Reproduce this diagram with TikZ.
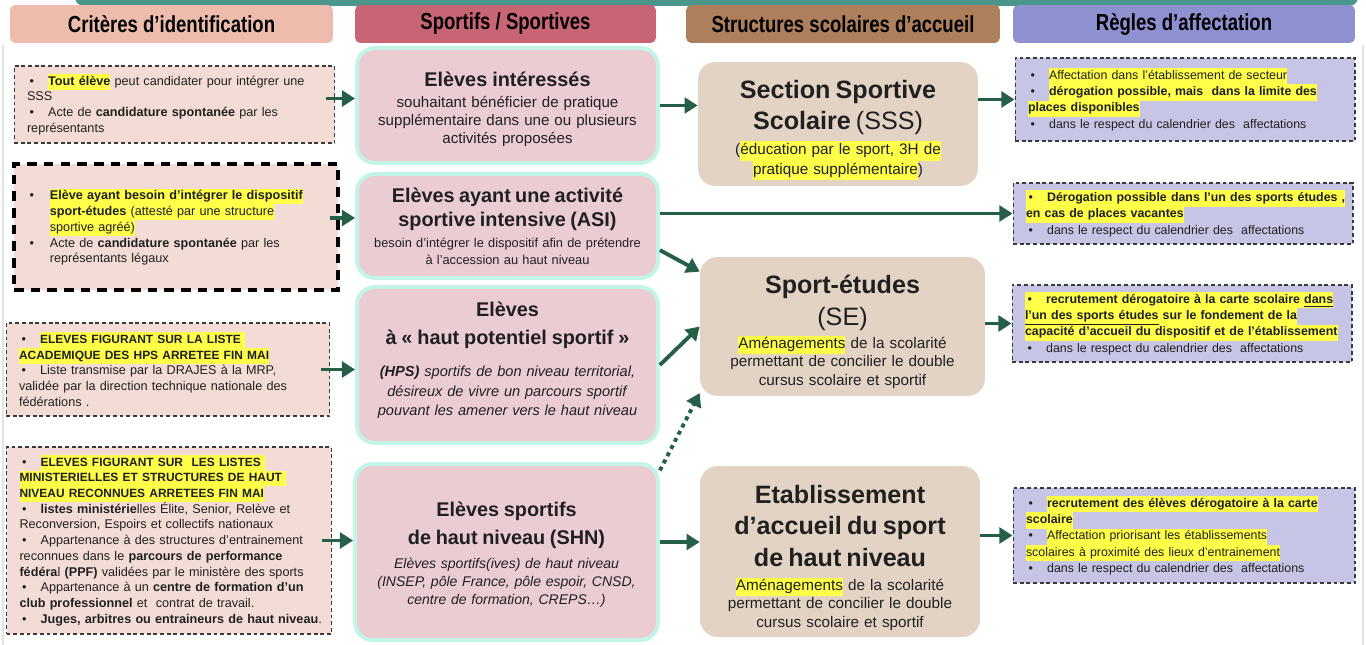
\documentclass[tikz,border=0pt]{standalone}
\usepackage{fontspec}
\setmainfont{Liberation Sans}
\newfontfamily\condfont[FakeStretch=0.8]{Liberation Sans}
\usepackage{tikz}
\usetikzlibrary{arrows.meta}

\definecolor{barteal}{HTML}{4A968A}
\definecolor{hdcrit}{HTML}{EEBCAD}
\definecolor{hdsport}{HTML}{C86574}
\definecolor{hdstruct}{HTML}{AE7F5C}
\definecolor{hdregle}{HTML}{8F90CF}
\definecolor{critfill}{HTML}{F4DCD6}
\definecolor{sportfill}{HTML}{EBCCD2}
\definecolor{sportedge}{HTML}{C2F5E7}
\definecolor{structfill}{HTML}{E3D3C5}
\definecolor{reglefill}{HTML}{C6C5E5}
\definecolor{arrgreen}{HTML}{265F48}
\definecolor{dashgray}{HTML}{3A3A3A}
\definecolor{framegray}{HTML}{E4E4E4}
\definecolor{hly}{HTML}{FFFF4A}
\definecolor{txt}{HTML}{202020}

\newcommand{\hlt}[1]{{\setlength{\fboxsep}{0pt}\colorbox{hly}{\strut#1}}}
\newcommand{\bul}[1][12pt]{\makebox[#1][l]{\hspace{1.5pt}•}}
\newcommand{\hpcaps}[1]{{\fontsize{6.8}{9}\selectfont\bfseries #1}}
\newcommand{\ttl}[1]{{\fontsize{11.3}{13}\selectfont\bfseries #1}}
\newcommand{\stl}[1]{{\fontsize{14.3}{17}\selectfont #1}}
\newcommand{\setsize}[2]{\fontsize{#1}{#2}\selectfont\lineskiplimit=-30pt}
\newcommand{\lift}[1]{\rule{0pt}{#1}}
\newcommand{\sink}[1]{\rule[-#1]{0pt}{0pt}}

\begin{document}
\begin{tikzpicture}[x=0.02cm, y=-0.02cm,
	hdr/.style={rounded corners=3pt, fill=#1, minimum height=0.76cm, inner sep=0pt, font=\condfont\bfseries\fontsize{13.2}{15}\selectfont},
	crit/.style={fill=critfill, draw=dashgray, line width=0.6pt, dash pattern=on 2.2pt off 1.6pt, inner xsep=0.26cm, inner ysep=0pt, align=left, text=txt, font=\setsize{7.2}{9}},
	sport/.style={rounded corners=10pt, fill=sportfill, draw=sportedge, line width=2.2pt, inner xsep=0.1cm, inner ysep=0pt, align=center, text=txt},
	struct/.style={rounded corners=10pt, fill=structfill, inner xsep=0.1cm, inner ysep=0pt, align=center, text=txt},
	regle/.style={fill=reglefill, draw=dashgray, line width=0.6pt, dash pattern=on 2.2pt off 1.6pt, inner xsep=0.26cm, inner ysep=0pt, align=left, text=txt, font=\setsize{7.05}{9.2}},
	arr/.style={draw=arrgreen, line width=2.2pt, -{Triangle[length=7.5pt,width=9pt]}},
	arrdot/.style={arr, dash pattern=on 2.3pt off 2.3pt}]

	\useasboundingbox (0,0) rectangle (1366,645);
	\begin{scope}
		\clip (0,0) rectangle (1366,645);
		\fill[barteal, rounded corners=5pt] (75,-20) rectangle (1358,6);
	\end{scope}
	\draw[framegray, line width=0.8pt] (3,45) -- (3,645);
	\draw[framegray, line width=0.8pt] (1363,45) -- (1363,645);

	% headers
	\node (h1) at (171.5,24) [hdr=hdcrit, minimum width=6.46cm] {Critères d’identification};
	\node (h2) at (505.5,24) [hdr=hdsport, minimum width=6.02cm] {Sportifs / Sportives};
	\node (h3) at (843,24) [hdr=hdstruct, minimum width=6.28cm] {Structures scolaires d’accueil};
	\node (h4) at (1184,24) [hdr=hdregle, minimum width=6.84cm] {Règles d’affectation};

	% criteres
	\node (l1) at (174.5,104.5) [crit, text width=5.9cm, minimum height=1.54cm] {
		\bul\hlt{\textbf{Tout élève}} peut candidater pour intégrer une\\
		SSS\\
		\bul Acte de \textbf{candidature spontanée} par les\\
		représentants};
	\node (l2) at (176,227) [crit, line width=1.8pt, dash pattern=on 5.5pt off 4pt, draw=black, text width=5.96cm, minimum height=2.52cm] {
		\bul[13pt]\hlt{\textbf{Elève ayant besoin d’intégrer le dispositif}}\\
		\hspace*{13pt}\hlt{\textbf{sport-études} (attesté par une structure}\\
		\hspace*{13pt}\hlt{sportive agréé)}\\
		\bul[13pt]Acte de \textbf{candidature spontanée} par les\\
		\hspace*{13pt}représentants légaux};
	\node (l3) at (168,369.5) [crit, text width=5.96cm, minimum height=1.86cm] {
		\bul\hlt{\hpcaps{ELEVES FIGURANT SUR LA LISTE }}\\
		\hlt{\hpcaps{ACADEMIQUE DES HPS ARRETEE FIN MAI}}\\
		\bul Liste transmise par la DRAJES à la MRP,\\
		validée par la direction technique nationale des\\
		fédérations .};
	\node (l4) at (169,540.5) [crit, text width=5.98cm, minimum height=3.74cm, font=\setsize{7.2}{8.95}] {
		\bul\hlt{\hpcaps{ELEVES FIGURANT SUR\ \ LES LISTES }}\\
		\hlt{\hpcaps{MINISTERIELLES ET STRUCTURES DE HAUT }}\\
		\hlt{\hpcaps{NIVEAU RECONNUES ARRETEES FIN MAI}}\\
		\bul\textbf{listes ministérie}lles Élite, Senior, Relève et\\
		Reconversion, Espoirs et collectifs nationaux\\
		\bul Appartenance à des structures d'entrainement\\
		reconnues dans le \textbf{parcours de performance}\\
		\textbf{fédéra}l \textbf{(PPF)} validées par le ministère des sports\\
		\bul Appartenance à un \textbf{centre de formation d'un}\\
		\textbf{club professionnel} et\ \ contrat de travail.\\
		\bul\mbox{\textbf{Juges, arbitres ou entraineurs de haut niveau}.}};

	% sportifs
	\node (m1) at (507.5,105.5) [sport, text width=5.82cm, minimum height=2.3cm, font=\setsize{8.6}{10.2}] {
		\lift{12.3pt}\ttl{Elèves intéressés}\\[1.8pt]
		souhaitant bénéficier de pratique\\
		supplémentaire dans une ou plusieurs\\
		activités proposées};
	\node (m2) at (507.5,226) [sport, text width=5.82cm, minimum height=2.08cm, font=\setsize{7.3}{9.6}] {
		\ttl{Elèves ayant une activité}\\[4pt]
		\ttl{sportive intensive (ASI)}\\[2.3pt]
		besoin d’intégrer le dispositif afin de prétendre\\
		à l’accession au haut niveau};
	\node (m3) at (507.5,365) [sport, text width=5.82cm, minimum height=3.12cm, font=\setsize{8.3}{11}] {
		\ttl{Elèves}\\[4.9pt]
		\ttl{à « haut potentiel sportif »}\\[7.6pt]
		\textit{\textbf{(HPS)} sportifs de bon niveau territorial,}\\
		\textit{désireux de vivre un parcours sportif}\\
		\textit{pouvant les amener vers le haut niveau}\sink{7.4pt}};
	\node (m4) at (506.5,552) [sport, text width=5.86cm, minimum height=3.52cm, font=\setsize{8}{10.2}] {
		\lift{11.7pt}\ttl{Elèves sportifs}\\[5.7pt]
		\ttl{de haut niveau (SHN)}\\[3.4pt]
		\textit{Elèves sportifs(ives) de haut niveau}\\
		\textit{(INSEP, pôle France, pôle espoir, CNSD,}\\
		\textit{centre de formation, CREPS…)}};

	% structures
	\node (s1) at (838,124) [struct, text width=5.4cm, minimum height=2.48cm, font=\setsize{8.7}{11}] {
		\lift{17.6pt}\stl{\textbf{Section Sportive}}\\[6.6pt]
		\stl{\textbf{Scolaire} (SSS)}\\[3.2pt]
		(\hlt{éducation par le sport, 3H de}\\
		\hlt{pratique supplémentaire})};
	\node (s2) at (842.5,326.5) [struct, text width=5.5cm, minimum height=2.78cm, font=\setsize{8.7}{10.4}] {
		\lift{16.5pt}\stl{\textbf{Sport-études}}\\[7.7pt]
		\stl{(SE)}\\[2.7pt]
		\hlt{Aménagements} de la scolarité\\
		permettant de concilier le double\\
		cursus scolaire et sportif};
	\node (s3) at (840,551.5) [struct, text width=5.4cm, minimum height=3.42cm, font=\setsize{8.7}{10.4}] {
		\lift{17.2pt}\stl{\textbf{Etablissement}}\\[7.7pt]
		\stl{\textbf{d’accueil du sport}}\\[7.7pt]
		\stl{\textbf{de haut niveau}}\\[3.2pt]
		\hlt{Aménagements} de la scolarité\\
		permettant de concilier le double\\
		cursus scolaire et sportif};

	% regles
	\node (r1) at (1185,99.5) [regle, text width=6.28cm, minimum height=1.66cm] {
		\bul\hlt{Affectation dans l’établissement de secteur}\\
		\bul\hlt{\textbf{dérogation possible, mais\ \ dans la limite des}}\\
		\hlt{\textbf{places disponibles}}\\
		\bul dans le respect du calendrier des\ \ affectations};
	\node (r2) at (1183,213.5) [regle, text width=6.28cm, minimum height=1.22cm] {
		\hlt{\bul\textbf{Dérogation possible dans l’un des sports études ,}}\\
		\hlt{\textbf{en cas de places vacantes}}\\
		\bul dans le respect du calendrier des\ \ affectations};
	\node (r3) at (1182,323.5) [regle, text width=6.28cm, minimum height=1.54cm] {
		\hlt{\bul\textbf{recrutement dérogatoire à la carte scolaire \underline{dans}}}\\
		\hlt{\textbf{\underline{l’un des sports études} sur le fondement de la}}\\
		\hlt{\textbf{capacité d’accueil du dispositif et de l’établissement}}\\
		\bul dans le respect du calendrier des\ \ affectations};
	\node (r4) at (1184,535.5) [regle, text width=6.32cm, minimum height=1.9cm] {
		\bul\hlt{\textbf{recrutement des élèves dérogatoire à la carte}}\\
		\hlt{\textbf{scolaire}}\\
		\bul\hlt{Affectation priorisant les établissements}\\
		\hlt{scolaires à proximité des lieux d’entrainement}\\
		\bul dans le respect du calendrier des\ \ affectations};

	% connectors
	\draw[arr] ([xshift=-0.2cm,yshift=0.12cm]l1.east) -- ([yshift=0.12cm]l1.east -| m1.west);
	\draw[arr] ([xshift=-0.2cm,yshift=0.18cm]l2.east) -- ([yshift=0.18cm]l2.east -| m2.west);
	\draw[arr] ([xshift=-0.2cm]l3.east) -- (l3.east -| m3.west);
	\draw[arr] ([xshift=-0.2cm]l4.east) -- (l4.east -| m4.west);
	\draw[arr] (m1.east) -- (m1.east -| s1.west);
	\draw[arr] (r2.west -| m2.east) -- (r2.west);
	\draw[arr] (m2.-9) -- (s2.159);
	\draw[arr] (m3.east) -- (s2.180);
	\draw[arrdot] (m4.28) -- (s2.205);
	\draw[arr] ([yshift=0.2cm]m4.east) -- ([yshift=0.2cm]m4.east -| s3.west);
	\draw[arr] (r1.west -| s1.east) -- (r1.west);
	\draw[arr] (r3.west -| s2.east) -- (r3.west);
	\draw[arr] (r4.west -| s3.east) -- (r4.west);

\end{tikzpicture}
\end{document}
